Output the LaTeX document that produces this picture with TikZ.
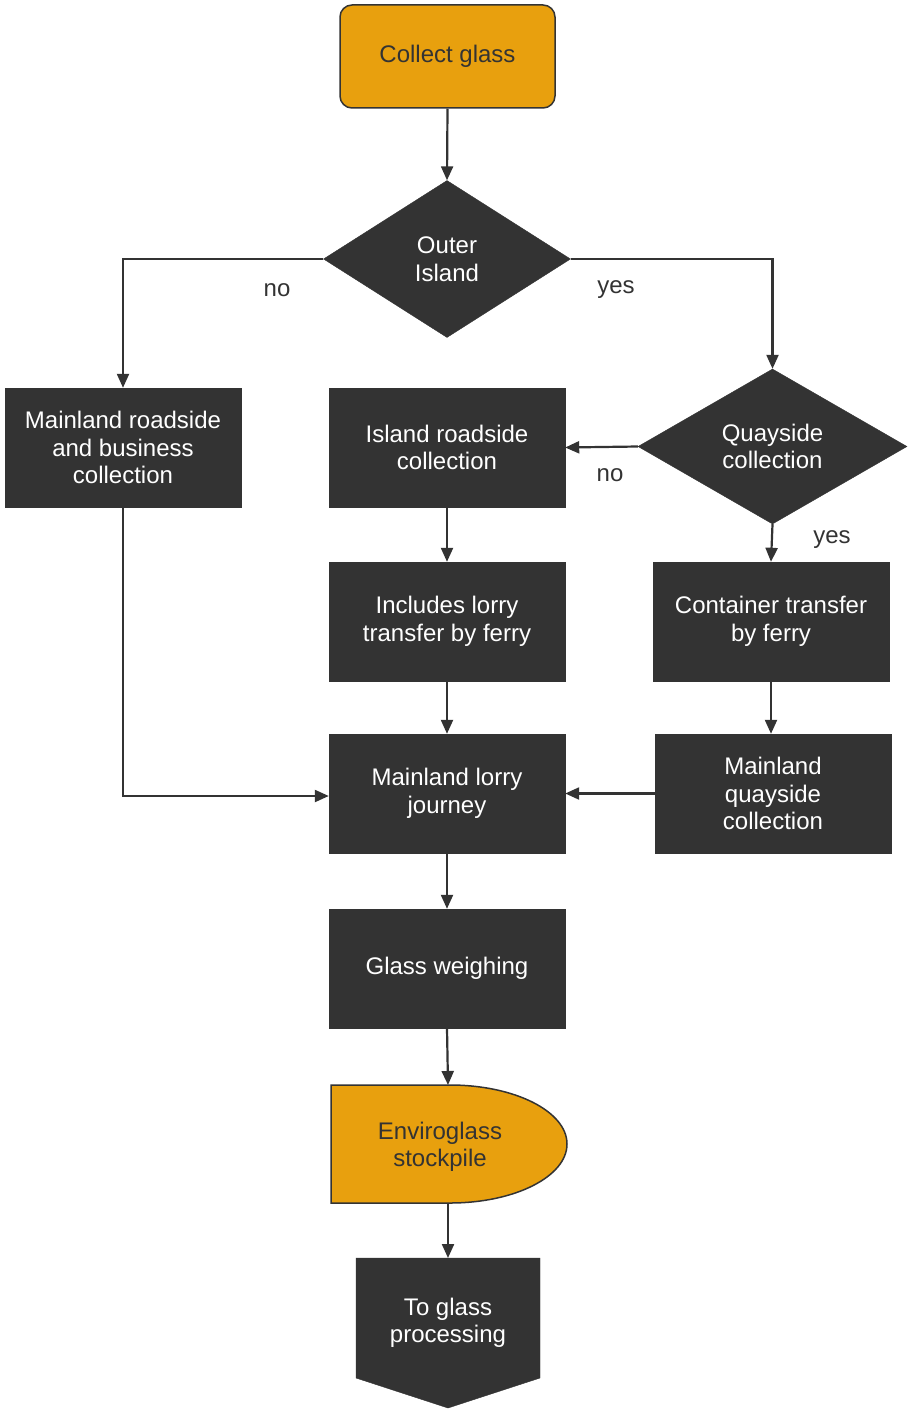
\documentclass[tikz,border=0pt]{standalone}
\usepackage{fontspec}
\setmainfont{Liberation Sans}
\usetikzlibrary{arrows.meta,shapes.geometric}
\definecolor{dk}{HTML}{333333}
\definecolor{org}{HTML}{E8A00E}
\begin{document}
\begin{tikzpicture}[x=1pt,y=-1pt,
  every node/.style={font=\fontsize{24}{27.5}\selectfont, align=center},
  darkbox/.style={rectangle, fill=dk, draw=dk, text=white, minimum width=236pt, minimum height=119pt, inner sep=0pt},
  decide/.style={diamond, fill=dk, draw=dk, text=white, inner sep=0pt},
  lbl/.style={text=dk},
  arr/.style={draw=dk, line width=2.2pt, -{Triangle[length=14pt,width=12pt]}}]
\useasboundingbox[fill=white] (0,0) rectangle (908,1410);

% start
\node[rectangle, rounded corners=12pt, fill=org, draw=dk, line width=1.5pt, text=dk,
  minimum width=215pt, minimum height=103pt] (collect) at (447.5,56.5) {\raisebox{-2pt}{Collect glass}};

\node[decide, minimum width=247pt, minimum height=157pt] (outer) at (447,259) {Outer\\Island};

\node[darkbox] (mroad) at (123,447.5) {Mainland roadside\\and business\\collection};
\node[darkbox] (iroad) at (447,447.5) {Island roadside\\collection};
\node[decide, minimum width=269pt, minimum height=155pt] (quay) at (772.5,446.5) {Quayside\\collection};

\node[darkbox] (lorry) at (447,621.5) {Includes lorry\\transfer by ferry};
\node[darkbox] (ctrans) at (771,621.5) {Container transfer\\by ferry};

\node[darkbox] (mlorry) at (447,793.5) {Mainland lorry\\journey};
\node[darkbox] (mquay) at (773,793.5) {Mainland\\quayside\\collection};

\node[darkbox] (weigh) at (447,968.5) {\raisebox{-2pt}{Glass weighing}};

% delay shape
\draw[fill=org, draw=dk, line width=1.5pt]
  (331,1085) -- (450,1085) .. controls (514.6,1085) and (567,1111.4) .. (567,1144)
  .. controls (567,1176.6) and (514.6,1203) .. (450,1203) -- (331,1203) -- cycle;
\node[text=dk] (envtext) at (440,1147) {Enviroglass\\stockpile};
\coordinate (envtop) at (448,1085);
\coordinate (envbot) at (448,1203);

% off-page shape
\draw[fill=dk, draw=dk] (356,1258) -- (540,1258) -- (540,1378) -- (448,1408) -- (356,1378) -- cycle;
\node[text=white] (proc) at (448,1323) {To glass\\processing};
\coordinate (proctop) at (448,1258);

% connectors
\draw[arr] (collect.south) -- (outer.north);
\draw[arr] (outer.west) -| (mroad.north);
\draw[arr] (outer.east) -| (quay.north);
\draw[arr] (quay.west) -- (iroad.east);
\draw[arr] (quay.south) -- (ctrans.north);
\draw[arr] (iroad.south) -- (lorry.north);
\draw[arr] (lorry.south) -- (mlorry.north);
\draw[arr] (ctrans.south) -- (ctrans.south |- mquay.north);
\draw[arr] (mroad.south) |- ([yshift=-2.5pt]mlorry.west);
\draw[arr] (mquay.west) -- (mlorry.east);
\draw[arr] (mlorry.south) -- (weigh.north);
\draw[arr] (weigh.south) -- (envtop);
\draw[arr] (envbot) -- (proctop);

% labels
\node[lbl] (l1) at (277,290) {no};
\node[lbl] (l2) at (616,290) {yes};
\node[lbl] (l3) at (610,475) {no};
\node[lbl] (l4) at (832,540) {yes};
\end{tikzpicture}
\end{document}
